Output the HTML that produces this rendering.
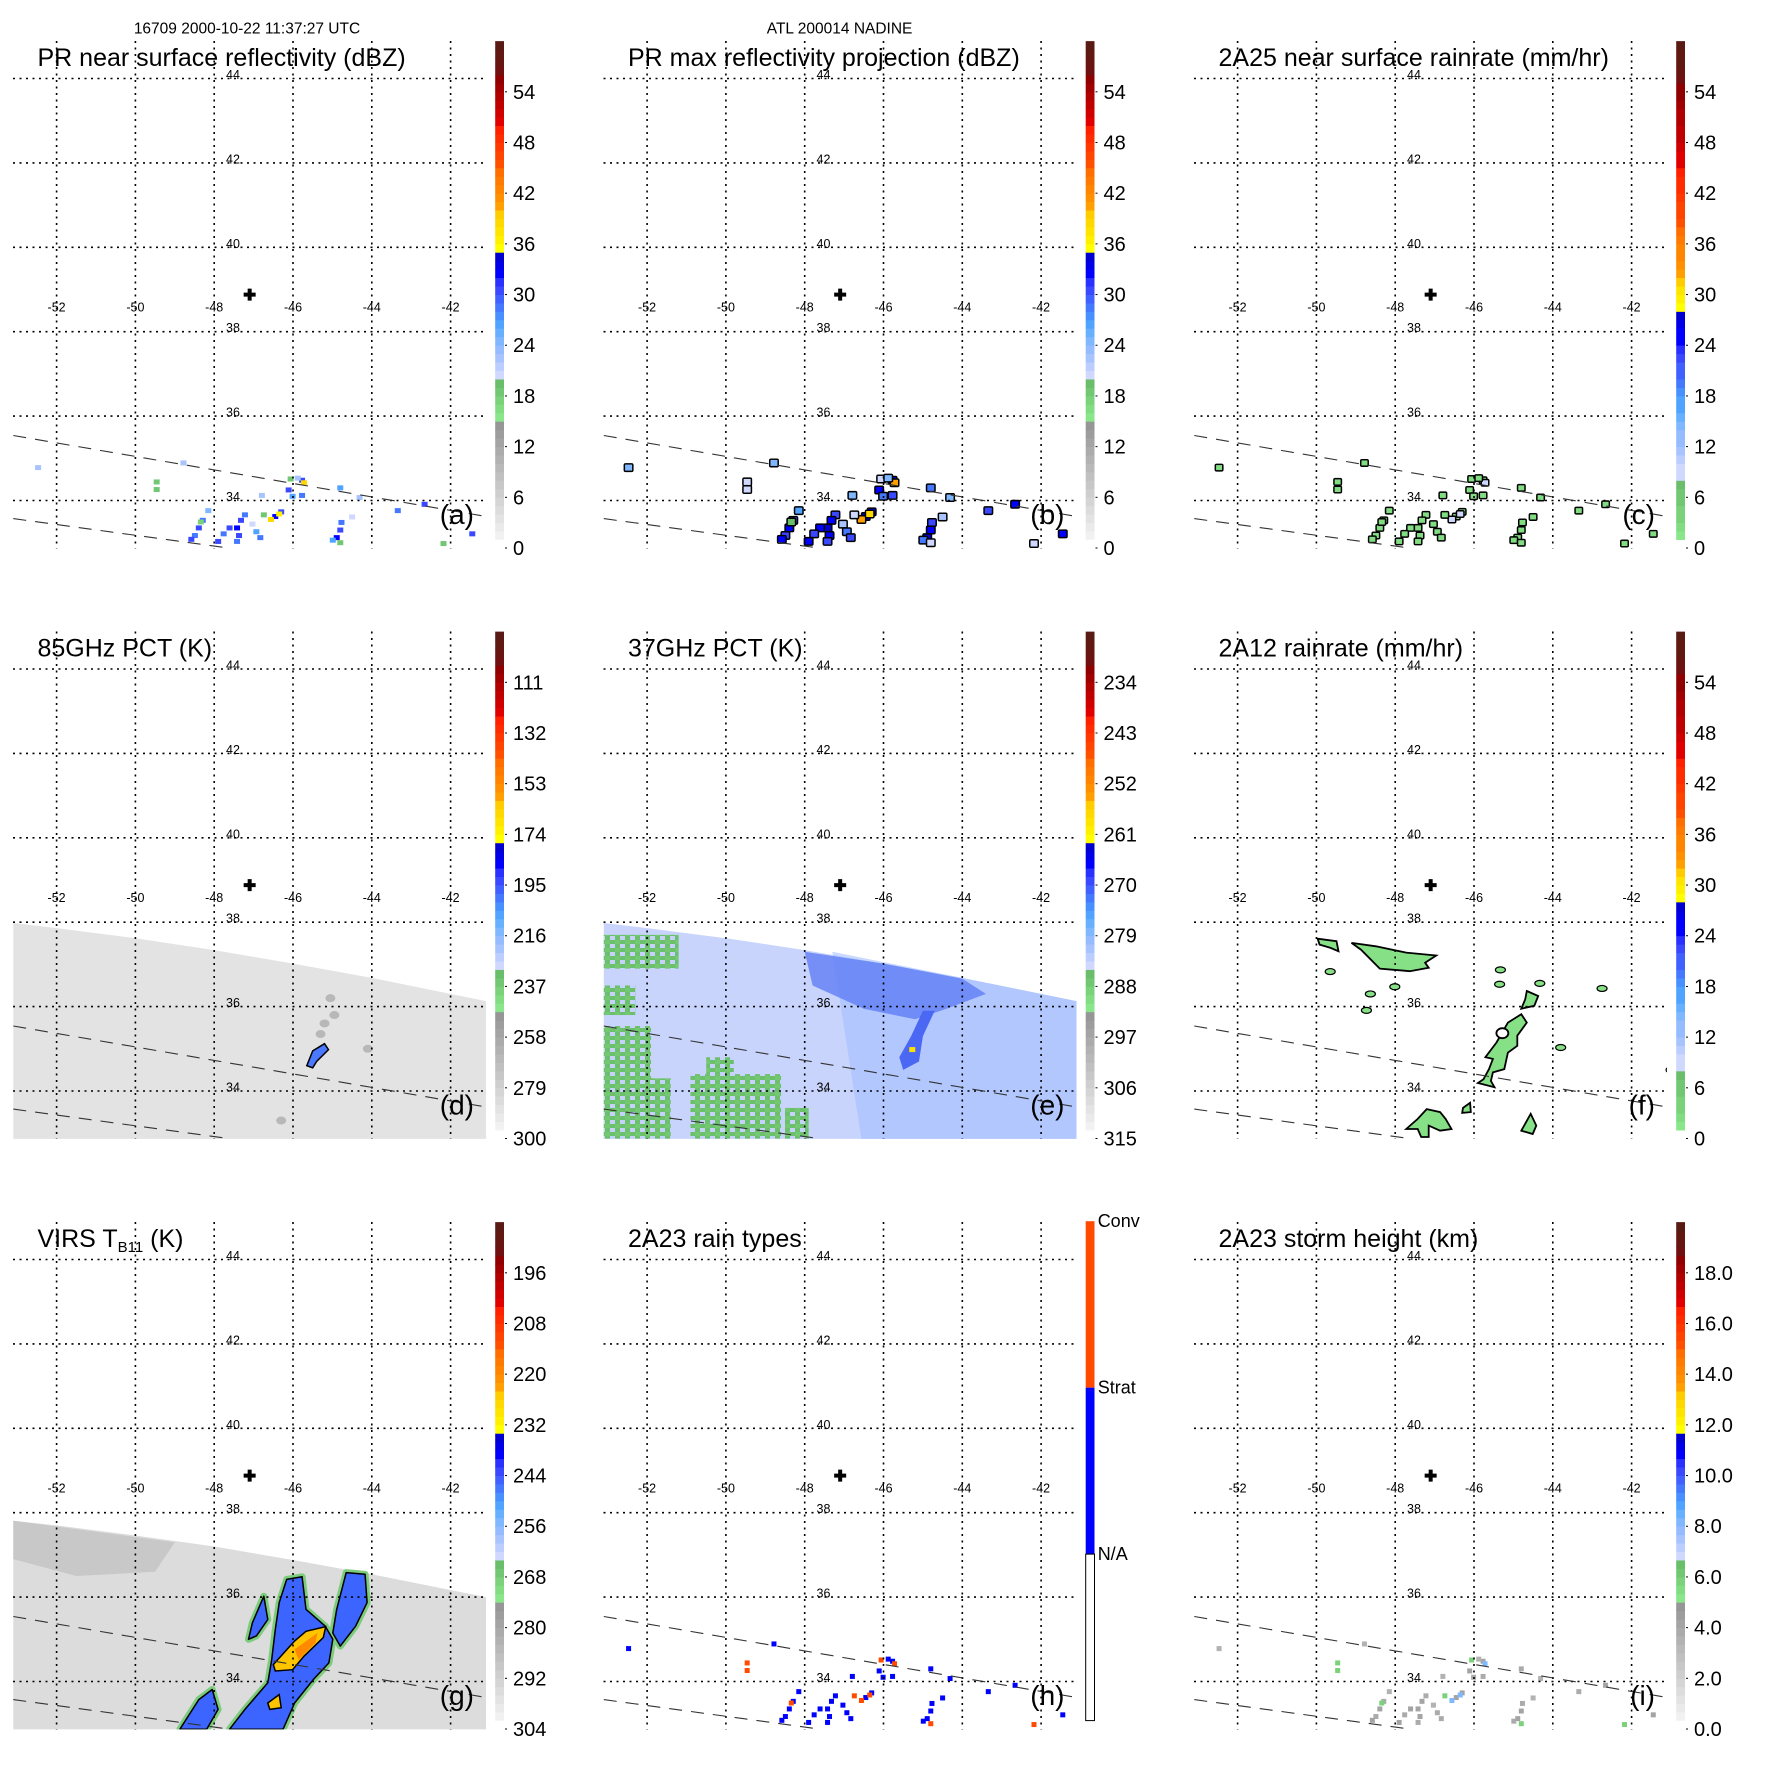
<!DOCTYPE html>
<html><head><meta charset="utf-8"><style>
html,body{margin:0;padding:0;background:#fff;}
svg{display:block;font-family:"Liberation Sans",Arial,sans-serif;}
</style></head><body>
<svg id="chart" xmlns="http://www.w3.org/2000/svg" width="1771" height="1771" viewBox="0 0 1771 1771">
<defs>
<pattern id="greenMix" width="10" height="8" patternUnits="userSpaceOnUse">
<rect width="10" height="8" fill="#6cc06c"/><rect width="5" height="4" fill="#c4d2fc"/><rect x="5" y="4" width="5" height="4" fill="#74c874"/>
</pattern>
</defs>
</svg>
<script>
// ---------- data ----------
const lonTicks=[-52,-50,-48,-46,-44,-42];
const latTicks=[44,42,40,38,36,34];
const stormCenter=[-47.1,38.88];
const swathUpperEdge=[[-53.1,35.54],[-41.1,33.62]];
const swathLowerEdge=[[-53.1,33.57],[-47.6,32.87]];
// PR cells: lon, lat, reflectivity (dBZ)
const prLon=[-48.15,-48.29,-48.39,-48.49,-48.58,-48.34,-47.22,-47.32,-47.42,-47.37,-47.42,-47.61,-47.76,-47.90,-47.03,-46.93,-46.83,-46.30,-46.45,-46.56,-46.35,-46.74,-46.06,-45.77,-45.72,-46.11,-45.77,-46.01,-45.88,-44.77,-44.80,-44.89,-44.99,-44.80,-48.78,-49.46,-49.46,-43.34,-42.66,-41.45,-44.80,-44.31,-46.79,-44.50,-42.18,-52.47];
const prLat=[33.76,33.53,33.35,33.17,33.08,33.49,33.66,33.53,33.35,33.17,33.03,33.35,33.21,33.03,33.44,33.26,33.12,33.73,33.62,33.55,33.68,33.66,34.51,34.48,34.42,34.25,34.12,34.10,34.53,33.48,33.30,33.12,33.06,33.00,34.89,34.44,34.26,33.76,33.91,33.21,34.30,34.07,34.12,33.61,32.98,34.78];
const prVal=[24,28,30,28,30,17,28,30,32,30,28,30,28,30,20,26,28,30,32,38,36,18,18,30,38,30,28,26,22,28,30,32,26,18,22,18,18,28,30,30,26,22,22,20,18,22];
const swathTopD=[[-53.1,37.98],[-52,37.86],[-50,37.62],[-48,37.34],[-46,37.02],[-44,36.68],[-41.1,36.13]];
const swathTopG=[[-53.1,37.81],[-52,37.70],[-50,37.46],[-48,37.20],[-46,36.88],[-44,36.54],[-41.1,36.0]];
const eDarkRegion=[[-48.0,37.3],[-46,37.02],[-44,36.66],[-43.4,36.3],[-44.4,35.95],[-45.2,35.7],[-46.5,35.95],[-47.8,36.5]];
const eStreak=[[-45.0,35.9],[-44.7,35.9],[-45.0,35.3],[-45.1,34.7],[-45.5,34.5],[-45.6,34.8],[-45.3,35.3]];
const eGreenPatches=[[-53.1,35.54,-51.9,32.87],[-51.9,34.3,-51.4,32.87],[-50.9,34.4,-48.6,32.87],[-53.1,37.7,-51.2,36.9],[-53.1,36.5,-52.3,35.8],[-50.5,34.8,-49.8,34.4],[-48.5,33.6,-47.9,32.87]];
const eYellowPixel=[-45.27,34.97];
const dStorm=[[-45.65,34.6],[-45.5,34.95],[-45.2,35.12],[-45.1,34.98],[-45.4,34.7],[-45.5,34.55]];
const dGrayLon=[-45.2,-45.05,-44.95,-45.3,-44.1,-46.3];
const dGrayLat=[35.6,36.2,35.8,35.35,35.0,33.3];
const gBlue=[[-46.16,36.42],[-45.77,36.48],[-45.67,35.71],[-45.18,35.31],[-44.99,35.0],[-45.09,34.44],[-45.48,34.05],[-45.96,33.49],[-46.25,32.87],[-47.61,32.87],[-47.22,33.34],[-46.64,33.97],[-46.54,34.52],[-46.45,35.23],[-46.35,35.87]];
const gArmRight=[[-44.65,36.58],[-44.17,36.54],[-44.12,35.87],[-44.41,35.31],[-44.80,34.84],[-44.99,35.15],[-44.89,35.71]];
const gArmLeft=[[-46.74,36.02],[-46.64,35.47],[-46.93,35.08],[-47.13,35.0],[-47.03,35.39]];
const gArmBottom=[[-48.87,32.87],[-48.39,33.57],[-48.05,33.81],[-47.90,33.34],[-48.19,32.87]];
const gYellow=[[-46.50,34.40],[-45.96,34.96],[-45.67,35.19],[-45.17,35.30],[-45.23,35.04],[-45.72,34.60],[-46.01,34.28],[-46.45,34.25]];
const gOrange=[[-45.96,34.76],[-45.38,35.15],[-45.43,34.92],[-45.86,34.52]];
const gSmallOrange=[[-46.64,33.49],[-46.35,33.69],[-46.30,33.38],[-46.59,33.34]];
const gDarkGray=[[-53.1,37.81],[-49.0,37.3],[-49.5,36.6],[-51.5,36.5],[-53.1,36.9]];
const fBlobs=[
 [[-49.11,37.51],[-48.49,37.43],[-47.72,37.28],[-46.96,37.21],[-47.24,37.04],[-47.15,36.92],[-47.63,36.84],[-48.39,36.90],[-48.87,37.35]],
 [[-49.97,37.61],[-49.49,37.55],[-49.44,37.31],[-49.64,37.39],[-49.92,37.47]],
 [[-44.66,36.37],[-44.37,36.25],[-44.47,36.02],[-44.80,35.95],[-44.70,36.17]],
 [[-44.80,35.82],[-44.66,35.62],[-44.90,35.31],[-44.90,35.07],[-45.14,34.91],[-45.23,34.52],[-45.52,34.44],[-45.57,34.24],[-45.48,34.09],[-45.90,34.19],[-45.76,34.28],[-45.62,34.52],[-45.52,34.76],[-45.71,34.80],[-45.43,35.15],[-45.14,35.62]],
 [[-47.72,33.10],[-47.43,33.34],[-47.20,33.57],[-46.86,33.50],[-46.72,33.34],[-46.57,33.10],[-46.86,33.06],[-47.15,33.18],[-47.15,32.91],[-47.34,32.91],[-47.43,33.10]],
 [[-44.80,33.06],[-44.56,33.46],[-44.42,33.18],[-44.51,32.98]],
 [[-46.28,33.6],[-46.1,33.72],[-46.08,33.5],[-46.3,33.48]]
];
const fDotLon=[-49.65,-48.01,-48.63,-45.33,-45.35,-44.33,-42.75,-48.73,-43.80,-41.0];
const fDotLat=[36.83,36.47,36.30,36.87,36.53,36.55,36.43,35.91,35.03,34.5];
const cbLabelsRefl=["0","6","12","18","24","30","36","42","48","54"];
const cbLabels85=["300","279","258","237","216","195","174","153","132","111"];
const cbLabels37=["315","306","297","288","279","270","261","252","243","234"];
const cbLabelsVirs=["304","292","280","268","256","244","232","220","208","196"];
const cbLabelsHeight=["0.0","2.0","4.0","6.0","8.0","10.0","12.0","14.0","16.0","18.0"];
const rainTypeLabels=["N/A","Strat","Conv"];

// ---------- styling ----------
const P1=[];
for(let i=0;i<15;i++){const g=248-i*7;P1.push(`rgb(${g},${g},${g})`);}
P1.push("#8ae68a","#82dc82","#7ad27a","#72c872","#6abe6a",
"#d0d8ff","#bcceff","#a8c4ff","#94bcff","#80b8ff","#66b0ff","#50a4ff","#4890ff","#4478ff","#4060ff","#3a48ff","#2a30ff","#0000ff","#0000e8","#0000d0",
"#ffff00","#fff000","#ffe400","#ffd800","#ffcc00",
"#ffa000","#ff9000","#ff8400","#ff7a00","#ff6e00",
"#ff5000","#ff4400","#ff3800","#ff2c00","#ff2000",
"#e00000","#d00000","#c00000","#b00000","#a00000","#900000",
"#701010","#681410","#601810","#5a1a14");
function c1(v){return P1[Math.max(0,Math.min(59,Math.floor(v)))];}
const P2map=[[0,8.2,15,20],[8.2,28.5,20,35],[28.5,32,35,40],[32,38,40,45],[38,45,45,50],[45,55,50,56],[55,60,56,60]];
function c2(v){for(const m of P2map){if(v>=m[0]&&v<m[1]){return P1[Math.floor(m[2]+(v-m[0])/(m[1]-m[0])*(m[3]-m[2]))];}}return P1[59];}

const NS="http://www.w3.org/2000/svg";
const svg=document.getElementById('chart');
function el(tag,attrs,parent){const e=document.createElementNS(NS,tag);for(const k in attrs)e.setAttribute(k,attrs[k]);(parent||svg).appendChild(e);return e;}
const S=590.5;
function mk(col,row){return {ox:col*S,oy:row*S};}
function X(p,lon){return p.ox+56.6+(lon+52)*39.4;}
function Y(p,lat){return p.oy+78.5+(44-lat)*42.2;}
function pts(p,arr){return arr.map(a=>X(p,a[0]).toFixed(1)+','+Y(p,a[1]).toFixed(1)).join(' ');}

function panelFrame(p,id,title,letter,cbLabels,pal){
  const g=el('g',{});
  
  
  const cp=el('clipPath',{id:'clip-'+id},g);
  el('rect',{x:p.ox+13,y:p.oy+41,width:473,height:507.4},cp);
  const data=el('g',{'clip-path':'url(#clip-'+id+')'},g);
  
  
  return {g,data,p,id,title,letter,cbLabels,pal};
}
function finishPanel(P){
  const {g,p,id}=P;
  const grid=el('g',{stroke:'#000','stroke-width':1.6,'stroke-dasharray':'2 4.5',fill:'none'},g);
  
  
  for(const lon of lonTicks){const l=el('line',{x1:X(p,lon),x2:X(p,lon),y1:p.oy+41,y2:p.oy+548.4},grid);}
  for(const lat of latTicks){const l=el('line',{x1:p.ox+13,x2:p.ox+486,y1:Y(p,lat),y2:Y(p,lat)},grid);}
  const sw=el('g',{stroke:'#333','stroke-width':1.1,'stroke-dasharray':'13 9',fill:'none','clip-path':'url(#clip-'+id+')'},g);
  
  
  el('polyline',{points:pts(p,swathUpperEdge)},sw);
  el('polyline',{points:pts(p,swathLowerEdge)},sw);
  for(const lon of lonTicks){const t=el('text',{x:X(p,lon),y:p.oy+311.5,'font-size':12.5,'text-anchor':'middle'},g);t.textContent=String(lon);}
  for(const lat of latTicks){const t=el('text',{x:p.ox+233,y:Y(p,lat)+0.5,'font-size':12.5,'text-anchor':'middle'},g);t.textContent=String(lat);}
  const cx=X(p,stormCenter[0]),cy=Y(p,stormCenter[1]);
  const cr=el('path',{d:`M${cx-6} ${cy}H${cx+6}M${cx} ${cy-6}V${cy+6}`,stroke:'#000','stroke-width':4},g);
  
  
  const tt=el('text',{x:p.ox+37.5,y:p.oy+65.8,'font-size':25},g);
  
  
  if(P.title==='VIRS'){tt.textContent='VIRS T';const s=el('tspan',{'font-size':15,dy:5},tt);s.textContent='B11';const s2=el('tspan',{dy:-5},tt);s2.textContent=' (K)';}
  else tt.textContent=P.title;
  const lt=el('text',{x:p.ox+474,y:p.oy+524,'font-size':28,'text-anchor':'end'},g);
  lt.textContent='('+P.letter+')';
  
  
  const cb=el('g',{},g);
  
  
  const bx=p.ox+495.2,bw=8.8,top=p.oy+40.2,bot=p.oy+539.6;
  const vy=v=>p.oy+548-v*8.448;
  if(P.pal==='type'){
    const h=(bot-top)/3;
    el('rect',{x:bx,y:top,width:bw,height:h,fill:'#ff4a00'},cb);
    el('rect',{x:bx,y:top+h,width:bw,height:h,fill:'#0000ff'},cb);
    el('rect',{x:bx,y:top+2*h,width:bw,height:h,fill:'#fff',stroke:'#000','stroke-width':1},cb);
    for(let i=0;i<3;i++){const t=el('text',{x:bx+12,y:bot-i*h-h+6,'font-size':18},cb);t.textContent=rainTypeLabels[i];}
    return;
  }
  for(let i=1;i<60;i++){
    const col=P.pal==='p2'?c2(i+0.5):c1(i+0.5);
    el('rect',{x:bx,y:Math.max(top,vy(i+1)),width:bw,height:Math.min(bot,vy(i))-Math.max(top,vy(i+1))+0.4,fill:col},cb);
  }
  el('rect',{x:bx,y:vy(1)-0.5,width:bw,height:bot-vy(1)+0.5,fill:P.pal==='p2'?c2(0.5):c1(0.5)},cb);
  P.cbLabels.forEach((lab,i)=>{
    const yy=vy(i*6);
    el('line',{x1:bx+bw+1,x2:bx+bw+3,y1:yy,y2:yy,stroke:'#000','stroke-width':1},cb);
    const t=el('text',{x:bx+17.8,y:yy+7,'font-size':20},cb);t.textContent=lab;
    
    
  });
}
function cells(P,colorFn,w,h,outline){
  const {data,p}=P;
  prLon.forEach((lon,i)=>{
    const x=X(p,lon),y=Y(p,prLat[i]);
    if(outline){const o=el('rect',{x:x-w/2-1.5,y:y-h/2-1.5,width:w+3,height:h+3,rx:2,fill:'#000'},data);}
    const r=el('rect',{x:x-w/2,y:y-h/2,width:w,height:h,fill:colorFn(prVal[i])},data);
    
    
  });
}

[['16709 2000-10-22 11:37:27 UTC',247],['ATL 200014 NADINE',839.6]].forEach(([s,x],i)=>{
  const t=el('text',{x:x,y:33.7,'font-size':15.5,'text-anchor':'middle'});t.textContent=s;
  
  
});

let A=panelFrame(mk(0,0),'a','PR near surface reflectivity (dBZ)','a',cbLabelsRefl,'p1');
cells(A,v=>c1(v),6,5,false);finishPanel(A);
let B=panelFrame(mk(1,0),'b','PR max reflectivity projection (dBZ)','b',cbLabelsRefl,'p1');
cells(B,v=>c1(v+2),7,6,true);finishPanel(B);
let C=panelFrame(mk(2,0),'c','2A25 near surface rainrate (mm/hr)','c',cbLabelsRefl,'p2');
cells(C,v=>c2(v>34?9:2),6,5,true);finishPanel(C);

let D=panelFrame(mk(0,1),'d','85GHz PCT (K)','d',cbLabels85,'p1');
(function(){const p=D.p;const sw=swathTopD.concat([[-41.1,32.5],[-53.1,32.5]]);
 const s=el('polygon',{points:pts(p,sw),fill:'#e3e3e3'},D.data);
 dGrayLon.forEach((lon,i)=>{const r=el('ellipse',{cx:X(p,lon),cy:Y(p,dGrayLat[i]),rx:5,ry:4,fill:'#b8b8b8'},D.data);});
 const st=el('polygon',{points:pts(p,dStorm),fill:'#4a78ff',stroke:'#000','stroke-width':1.5},D.data);
})();
finishPanel(D);

let E=panelFrame(mk(1,1),'e','37GHz PCT (K)','e',cbLabels37,'p1');
(function(){const p=E.p;const sw=swathTopD.concat([[-41.1,32.5],[-53.1,32.5]]);
 const s=el('polygon',{points:pts(p,sw),fill:'#c8d4fc'},E.data);
 const r2=el('polygon',{points:pts(p,[[-47.3,37.3],[-41.1,36.13],[-41.1,32.5],[-46.5,32.5]]),fill:'#9ebcff','fill-opacity':0.55},E.data);
 const dk=el('polygon',{points:pts(p,eDarkRegion),fill:'#5a78f4','fill-opacity':0.75},E.data);
 const sk=el('polygon',{points:pts(p,eStreak),fill:'#4a68f4'},E.data);
 eGreenPatches.forEach(q=>{const r=el('rect',{x:X(p,q[0]),y:Y(p,q[1]),width:X(p,q[2])-X(p,q[0]),height:Y(p,q[3])-Y(p,q[1]),fill:'url(#greenMix)'},E.data);});
 const y=el('rect',{x:X(p,eYellowPixel[0])-3,y:Y(p,eYellowPixel[1])-3,width:6,height:5,fill:'#ffe000'},E.data);
})();
finishPanel(E);

let F=panelFrame(mk(2,1),'f','2A12 rainrate (mm/hr)','f',cbLabelsRefl,'p2');
(function(){const p=F.p;
 fBlobs.forEach(b=>{const r=el('polygon',{points:pts(p,b),fill:'#86e086',stroke:'#000','stroke-width':1.8},F.data);});
 fDotLon.forEach((lon,i)=>{const r=el('ellipse',{cx:X(p,lon),cy:Y(p,fDotLat[i]),rx:5,ry:3,fill:'#86e086',stroke:'#000','stroke-width':1.2},F.data);});
 const e=el('ellipse',{cx:X(p,-45.28),cy:Y(p,35.37),rx:6,ry:5,fill:'#fff',stroke:'#000','stroke-width':1.8},F.data);
})();
finishPanel(F);

let G=panelFrame(mk(0,2),'g','VIRS','g',cbLabelsVirs,'p1');
(function(){const p=G.p;const sw=swathTopG.concat([[-41.1,32.5],[-53.1,32.5]]);
 const s=el('polygon',{points:pts(p,sw),fill:'#dcdcdc'},G.data);
 const dg=el('polygon',{points:pts(p,gDarkGray),fill:'#c8c8c8'},G.data);
 [gBlue,gArmRight,gArmLeft,gArmBottom].forEach(b=>{const f=el('polygon',{points:pts(p,b),fill:'none',stroke:'#7ccc7c','stroke-width':7,'stroke-linejoin':'round'},G.data);});
 [gBlue,gArmRight,gArmLeft,gArmBottom].forEach(b=>{const r=el('polygon',{points:pts(p,b),fill:'#3c64ff',stroke:'#000','stroke-width':1.5,'stroke-linejoin':'round'},G.data);});
 [gYellow,gSmallOrange].forEach(b=>{const r=el('polygon',{points:pts(p,b),fill:'#ffc400',stroke:'#000','stroke-width':1.5},G.data);});
 const o=el('polygon',{points:pts(p,gOrange),fill:'#ff8a00'},G.data);
})();
finishPanel(G);

let H=panelFrame(mk(1,2),'h','2A23 rain types','h',null,'type');
cells(H,v=>v>=34?'#ff4a00':(v<19?'#ff4a00':'#0000ff'),5,5,false);finishPanel(H);

let I=panelFrame(mk(2,2),'i','2A23 storm height (km)','i',cbLabelsHeight,'p1');
cells(I,v=>v>=36?c1(24):(v<19?c1(17):c1(6+v/5)),5,5,false);finishPanel(I);
</script>
</body></html>
